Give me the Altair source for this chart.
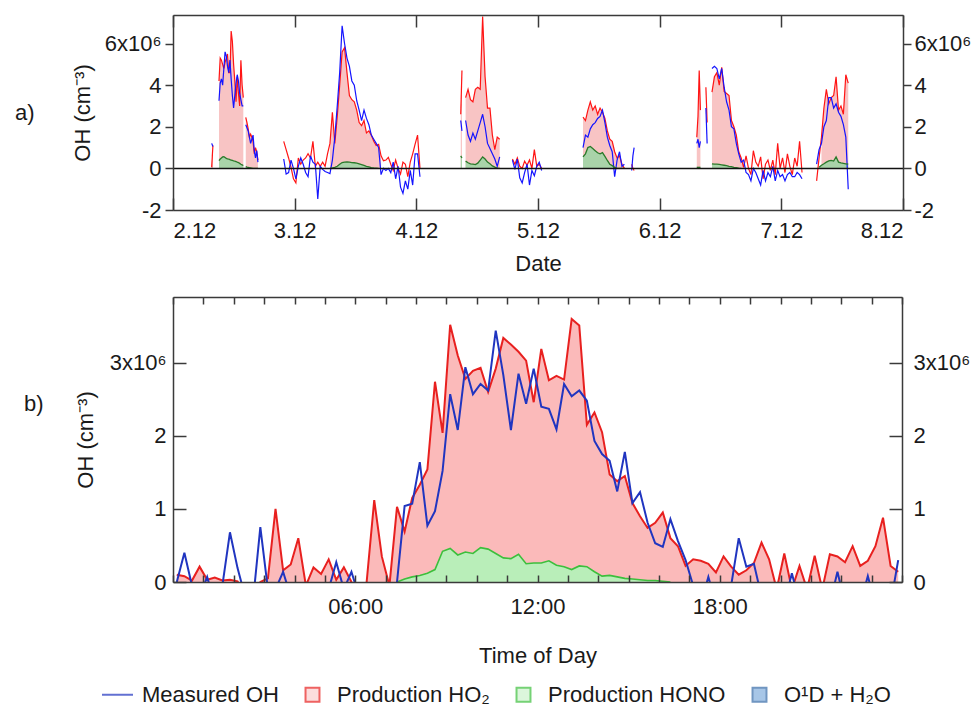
import altair as alt
import pandas as pd

FONT = "Liberation Sans"
INK = "#1a1a1a"
FRAME = "#3a3a3a"

# ---------------- colours ----------------
RED_A, BLUE_A, PINK_A = "#ff1414", "#1414ff", "#f8c4c4"
GFILL_A, GLINE_A = "#a9d3a9", "#2a7a2a"
RED_B, BLUE_B, PINK_B = "#e8201f", "#2035c0", "#fbbaba"
GFILL_B, GLINE_B = "#b9eeb9", "#3cbf3c"
O1D_FILL, O1D_STROKE = "#4f8bd0", "#356aa8"

# ---------------- panel a: time series (day of December, 1e6 cm-3) ----------------
DAY_TICKS = [2, 3, 4, 5, 6, 7, 8]

S1_START, S1_STEP = 2.318, 0.01
S1_HO2 = [0.05, 1.1]
S1_OH = [1.2, 1.05]
S1_HONO_OFF, S1_HONO = 0, []
S1_FILL = (0, 2)

S2_START, S2_STEP = 2.378, 0.01
S2_HO2 = [4.2, 5.3, 5.2, 5.0, 4.8, 5.1, 5.3, 5.5, 4.6, 4.6, 6.6, 6.1, 5.0, 4.2, 3.2, 4.4, 3.6, 3.0, 5.2, 4.0, 3.4]
S2_OH = [3.25, 4.1, 4.3, 4.0, 4.8, 5.6, 5.4, 4.9, 4.6, 5.2, 4.3, 3.5, 2.9, 3.5, 4.1, 4.5, 4.2, 3.6, 3.3, 3.0, 3.0]
S2_HONO_OFF = 0
S2_HONO = [0.37, 0.45, 0.5, 0.55, 0.56, 0.52, 0.48, 0.46, 0.45, 0.42, 0.4, 0.38, 0.36, 0.35, 0.33, 0.3, 0.28, 0.24, 0.2, 0.17, 0.14]
S2_FILL = (0, 21)

S3_START, S3_STEP = 2.598, 0.01
S3_HO2 = [2.45, 2.2, 1.9, 1.5, 1.65, 1.5, 1.3, 0.7, 1.0, 0.8, 0.4]
S3_OH = [2.1, 1.95, 1.8, 1.5, 1.2, 1.4, 1.6, 0.85, 0.5, 0.85, 0.3]
S3_HONO_OFF = 0
S3_HONO = [0.08, 0.06, 0.05, 0.03, 0.02, 0.01, 0.0, 0.0, 0.0, 0.0, 0.0]
S3_FILL = (0, 11)

S4_START, S4_STEP = 2.91, 0.02
S4_HO2 = [1.3, 0.9, 0.5, 0.05, -0.5, -0.7, 0.5, 0.2, 0.4, 0.5,
          0.7, 0.5, 1.3, 0.1, 0.3, 0.1, 0.3, 0.1, 0.7, 1.2,
          2.7, 1.2, 2.5, 4.0, 5.6, 5.8, 4.6, 3.5, 3.3, 3.2,
          2.8, 2.2, 2.05, 2.3, 1.7, 1.8, 1.6, 1.3, 1.1, 1.15,
          0.6, 0.37, 0.4, 0.53, 0.2, -0.1, 0.4, 0.0, -0.27, 0.3,
          0.2, -0.4, 0.3, 0.7, 1.17, 1.6, 0.0]
S4_OH = [0.45, -0.27, -0.2, 0.4, 0.0, -0.5, 0.1, 0.5, 0.2, -0.2,
         -0.4, 0.6, 0.3, 0.2, -1.47, 0.1, -0.05, -0.15, -0.2, -0.25,
         0.4, 1.5, 3.0, 4.6, 6.85, 6.0, 5.3, 4.9, 4.2, 4.0,
         3.25, 2.8, 2.3, 2.8, 2.4, 2.1, 1.6, 1.4, 1.2, 1.0,
         -0.3, 0.0, -0.1, 0.0, -0.2, 0.3, -0.5, 0.1, -0.9, -1.2,
         -0.6, -1.0, -0.1, -0.8, 0.7, 0.7, -0.4]
S4_HONO_OFF = 19
S4_HONO = [0.0, 0.02, 0.05, 0.1, 0.2, 0.28, 0.3, 0.31, 0.3, 0.28, 0.27,
           0.25, 0.22, 0.18, 0.14, 0.1, 0.07, 0.04, 0.02, 0.01, 0.0]
S4_FILL = (19, 41)

S5_START, S5_STEP = 4.365, 0.01
S5_HO2 = [2.6, 4.7]
S5_OH = [2.3, 1.8]
S5_HONO_OFF, S5_HONO = 0, [0.6, 0.5]
S5_FILL = (0, 2)

S6_START, S6_STEP = 4.405, 0.02
S6_HO2 = [3.4, 3.8, 3.3, 3.2, 3.8, 3.9, 3.8, 7.3, 4.4, 2.9, 2.9, 1.6, 0.9, 1.5, 1.4]
S6_OH = [2.3, 1.6, 1.3, 1.7, 1.4, 1.8, 2.2, 2.6, 2.0, 1.2, 0.95, 0.7, 0.45, 0.1, 0.55]
S6_HONO_OFF = 0
S6_HONO = [0.35, 0.27, 0.22, 0.2, 0.18, 0.25, 0.4, 0.55, 0.45, 0.3, 0.22, 0.12, 0.06, 0.01, 0.0]
S6_FILL = (0, 15)

S7_START, S7_STEP = 4.79, 0.02
S7_HO2 = [0.45, 0.2, 0.5, 0.1, 0.0, 0.35, 0.15, 0.4, 0.0, 0.9, 0.1, 0.2, 0.0]
S7_OH = [0.4, -0.05, 0.45, -0.45, -0.7, -0.2, 0.2, -0.8, -0.1, -0.35, 0.1, 0.3, -0.1]
S7_HONO_OFF, S7_HONO = 0, []
S7_FILL = (0, 0)

S8_START, S8_STEP = 5.37, 0.02
S8_HO2 = [2.46, 2.3, 2.8, 3.2, 2.8, 3.0, 2.6, 2.9, 2.7, 2.4, 1.8, 1.4, 1.3, 0.8, 0.5, 0.6, 0.2, 0.0]
S8_OH = [1.0, 1.6, 1.5, 1.9, 2.1, 2.2, 2.4, 2.5, 2.8, 2.2, 1.5, 1.1, 0.8, -0.4, 0.4, 0.8, 0.1, 0.2]
S8_HONO_OFF = 0
S8_HONO = [0.55, 0.7, 1.0, 1.05, 0.95, 0.85, 0.75, 0.7, 0.76, 0.58, 0.38, 0.2, 0.13, 0.05, 0.0, 0.0, 0.0, 0.0]
S8_FILL = (0, 18)

S9_START, S9_STEP = 5.77, 0.01
S9_HO2 = [0.2, 0.0, -0.1]
S9_OH = [-0.1, 0.6, 1.0]
S9_HONO_OFF, S9_HONO = 0, []
S9_FILL = (0, 0)

S10_START, S10_STEP = 6.305, 0.01
S10_HO2 = [1.5, 2.5, 4.7, 2.8]
S10_OH = [1.2, 1.4, 1.0, 1.3]
S10_HONO_OFF, S10_HONO = 0, [0.05, 0.05, 0.05, 0.05]
S10_FILL = (0, 4)

S11_START, S11_STEP = 6.38, 0.01
S11_HO2 = [3.9, 2.2]
S11_OH = [2.9, 1.2]
S11_HONO_OFF, S11_HONO = 0, []
S11_FILL = (0, 0)

S12_START, S12_STEP = 6.43, 0.02
S12_HO2 = [3.66, 4.4, 4.6, 4.0, 4.86, 3.7, 3.6, 3.5, 2.3, 2.0,
           1.6, 0.8, 0.5, 0.05, 0.6, 0.0, -0.3, 0.85, 0.3, 0.1,
           0.55, -0.5, 0.2, 0.4, -0.1, 0.4, -0.3, 1.2, 0.0, 0.5,
           -0.2, 0.7, 0.1, -0.3, 0.5, 0.1, 1.3, -0.2]
S12_OH = [4.8, 4.9, 4.8, 4.3, 4.8, 3.9, 3.2, 2.8, 2.0, 1.9,
          1.2, 0.7, 0.3, 0.4, -0.2, -0.3, -0.6, 0.0, -0.2, -0.5,
          -0.8, -0.1, -0.6, -0.2, -0.4, 0.1, -0.6, -0.1, -0.4, -0.3,
          -0.6, -0.3, -0.2, -0.4, -0.4, -0.2, -0.3, -0.5]
S12_HONO_OFF = 0
S12_HONO = [0.22, 0.2, 0.2, 0.19, 0.17, 0.15, 0.13, 0.1, 0.08, 0.05, 0.03, 0.01, 0.0]
S12_FILL = (0, 14)

S13_START, S13_STEP = 7.29, 0.02
S13_HO2 = [-0.6, 0.5, 1.5, 2.9, 3.8, 3.1, 3.4, 3.5, 4.4, 2.8, 3.0, 2.6, 4.5, 4.1]
S13_OH = [0.2, 0.9, 1.2, 2.0, 2.3, 3.4, 3.4, 2.9, 3.1, 2.7, 2.5, 2.1, 1.5, -1.0]
S13_HONO_OFF = 1
S13_HONO = [0.05, 0.15, 0.22, 0.3, 0.36, 0.38, 0.35, 0.55, 0.3, 0.26, 0.24, 0.22, 0.2]
S13_FILL = (2, 14)

# ---------------- panel b: diurnal profile (hour of day, 1e6 cm-3) ----------------
HOUR_TICKS = list(range(0, 25))
B_HO2 = [0.10, 0.08, 0.02, 0.21, 0.03, 0.06, 0.02, 0.03, 0.01, -0.2,
         -0.2, 0.0, 0.05, 1.0, 0.16, 0.24, 0.6, -0.05, 0.2, 0.11,
         0.31, 0.03, 0.2, 0.0, -0.3, 0.0, 1.12, 0.35, -0.05, 1.03,
         0.69, 1.15, 1.33, 1.54, 2.74, 2.04, 3.52, 3.1, 2.78, 2.89,
         2.93, 2.6, 2.92, 3.34, 3.25, 3.15, 3.03, 2.46, 3.19, 2.76,
         2.82, 2.77, 3.6, 3.51, 2.15, 2.32, 2.05, 1.47, 1.38, 1.45,
         1.08, 0.9, 0.74, 0.81, 0.95, 0.6, 0.49, 0.22, 0.31, 0.29,
         0.25, 0.13, 0.35, 0.21, 0.1, 0.16, 0.26, 0.54, 0.31, -0.1,
         0.39, -0.1, 0.22, -0.1, 0.36, -0.1, 0.38, 0.35, 0.27, 0.49,
         0.22, 0.29, 0.49, 0.88, 0.22, 0.14]
B_OH = [0.0, 0.4, -0.05, -0.2, 0.07, -0.3, -0.05, 0.68, 0.19, -0.2,
        -0.3, 0.75, -0.1, -0.1, 0.14, -0.2, -0.3, -0.3, -0.3, -0.3,
        -0.1, 0.27, -0.1, 0.14, -0.2, -0.3, -0.3, -0.3, -0.3, 0.0,
        1.04, 1.07, 1.64, 0.77, 0.97, 1.52, 2.57, 2.08, 2.94, 2.57,
        2.71, 2.62, 3.44, 2.83, 2.08, 2.85, 2.44, 2.92, 2.4, 2.37,
        2.09, 2.71, 2.54, 2.62, 2.48, 1.93, 1.75, 1.66, 1.24, 1.78,
        1.08, 1.23, 0.81, 0.53, 0.48, 0.86, 0.56, 0.3, -0.05, -0.3,
        0.07, -0.3, -0.3, -0.05, 0.6, 0.21, 0.25, -0.2, -0.3, -0.3,
        -0.3, 0.12, -0.3, -0.3, -0.3, -0.3, -0.3, 0.14, -0.3, -0.3,
        -0.3, 0.08, -0.3, -0.3, -0.3, 0.3]
B_HONO_OFF = 29
B_HONO = [0.0, 0.04, 0.07, 0.09, 0.12, 0.17, 0.42, 0.46, 0.37, 0.41,
          0.39, 0.47, 0.45, 0.39, 0.33, 0.32, 0.38, 0.25, 0.26, 0.26,
          0.29, 0.23, 0.21, 0.17, 0.22, 0.21, 0.14, 0.08, 0.09, 0.07,
          0.05, 0.04, 0.03, 0.02, 0.02, 0.01, 0.0]

LEG_NAMES = ["Measured OH", "Production HO\u2082", "Production HONO", "O\u00b9D + H\u2082O"]

# ---------------- tables ----------------
SEGS = [
    (S1_START, S1_STEP, S1_HO2, S1_OH, S1_HONO_OFF, S1_HONO, S1_FILL),
    (S2_START, S2_STEP, S2_HO2, S2_OH, S2_HONO_OFF, S2_HONO, S2_FILL),
    (S3_START, S3_STEP, S3_HO2, S3_OH, S3_HONO_OFF, S3_HONO, S3_FILL),
    (S4_START, S4_STEP, S4_HO2, S4_OH, S4_HONO_OFF, S4_HONO, S4_FILL),
    (S5_START, S5_STEP, S5_HO2, S5_OH, S5_HONO_OFF, S5_HONO, S5_FILL),
    (S6_START, S6_STEP, S6_HO2, S6_OH, S6_HONO_OFF, S6_HONO, S6_FILL),
    (S7_START, S7_STEP, S7_HO2, S7_OH, S7_HONO_OFF, S7_HONO, S7_FILL),
    (S8_START, S8_STEP, S8_HO2, S8_OH, S8_HONO_OFF, S8_HONO, S8_FILL),
    (S9_START, S9_STEP, S9_HO2, S9_OH, S9_HONO_OFF, S9_HONO, S9_FILL),
    (S10_START, S10_STEP, S10_HO2, S10_OH, S10_HONO_OFF, S10_HONO, S10_FILL),
    (S11_START, S11_STEP, S11_HO2, S11_OH, S11_HONO_OFF, S11_HONO, S11_FILL),
    (S12_START, S12_STEP, S12_HO2, S12_OH, S12_HONO_OFF, S12_HONO, S12_FILL),
    (S13_START, S13_STEP, S13_HO2, S13_OH, S13_HONO_OFF, S13_HONO, S13_FILL),
]

rows_a = []
for k, (start, step, ho2, oh, hoff, hono, fill) in enumerate(SEGS):
    for i in range(len(ho2)):
        j = i - hoff
        rows_a.append(dict(
            d=round(start + i * step, 4), seg=k, ho2=ho2[i],
            oh=oh[i] if i < len(oh) else None,
            hono=hono[j] if 0 <= j < len(hono) else None,
            fill=ho2[i] if fill[0] <= i < fill[1] else None,
        ))
df_a = pd.DataFrame(rows_a)

rows_b = []
for i in range(len(B_HO2)):
    j = i - B_HONO_OFF
    rows_b.append(dict(
        t=0.125 + 0.25 * i, ho2=B_HO2[i],
        oh=B_OH[i] if i < len(B_OH) else None,
        hono=B_HONO[j] if 0 <= j < len(B_HONO) else None,
    ))
df_b = pd.DataFrame(rows_b)
leg_df = pd.DataFrame({"t": [-50.0] * 4, "v": [1.0] * 4, "series": LEG_NAMES})

# ---------------- geometry ----------------
W_A, H_A = 730, 195
W_B, H_B = 729, 285
XA, YA = [2, 8], [-2, 7.37]
XB, YB = [0, 24], [0, 3.9]


def X(field, dom, axis):
    return alt.X(f"{field}:Q", scale=alt.Scale(domain=dom, nice=False, zero=False), axis=axis)


def Y(field, dom, axis):
    return alt.Y(f"{field}:Q", scale=alt.Scale(domain=dom, nice=False), axis=axis)


# ---------------- panel a ----------------
YA_VALS = [-2, 0, 2, 4, 6]
LAB_A = "datum.value == 6 ? '6x10\u2076' : '' + datum.value"
ax_a_bottom = alt.Axis(orient="bottom", values=DAY_TICKS, labelExpr="datum.value + '.12'",
                       ticks=False, tickSize=0, domain=False, grid=False, title="Date",
                       labelPadding=10, titlePadding=12)
ax_a_btick = alt.Axis(orient="top", offset=-H_A, values=DAY_TICKS, labels=False, tickSize=12,
                      domain=True, grid=False, title=None, zindex=1)
ax_a_ttick = alt.Axis(orient="bottom", offset=-H_A, values=DAY_TICKS, labels=False, tickSize=12,
                      domain=True, grid=False, title=None, zindex=1)
ay_a_left = alt.Axis(orient="left", values=YA_VALS, labelExpr=LAB_A, tickSize=8, domain=True,
                     grid=False, title="OH (cm\u207b\u00b3)", zindex=1, labelPadding=4, titlePadding=10)
ay_a_right = alt.Axis(orient="right", values=YA_VALS, labelExpr=LAB_A, tickSize=8, domain=True,
                      grid=False, title=None, zindex=1, labelPadding=3)
ay_a_zero = alt.Axis(orient="left", values=[0], grid=True, gridColor="#111111", gridWidth=1.5,
                     ticks=False, labels=False, domain=False, title=None, zindex=1)

base_a = alt.Chart(df_a)
pink_a = base_a.transform_filter("isValid(datum.fill)").mark_area(
    color=PINK_A, clip=True, orient="vertical").encode(
    x=X("d", XA, ax_a_bottom), y=Y("fill", YA, ay_a_left), y2=alt.datum(0), detail="seg:N")
green_area_a = base_a.transform_filter("isValid(datum.hono)").mark_area(
    color=GFILL_A, clip=True, orient="vertical").encode(
    x=X("d", XA, ax_a_btick), y=Y("hono", YA, ay_a_right), y2=alt.datum(0), detail="seg:N")
red_a = base_a.mark_line(color=RED_A, strokeWidth=1.2, clip=True).encode(
    x=X("d", XA, ax_a_ttick), y=Y("ho2", YA, ay_a_zero), detail="seg:N")
blue_a = base_a.transform_filter("isValid(datum.oh)").mark_line(
    color=BLUE_A, strokeWidth=1.2, clip=True).encode(
    x=X("d", XA, None), y=Y("oh", YA, None), detail="seg:N")
green_a = base_a.transform_filter("isValid(datum.hono)").mark_line(
    color=GLINE_A, strokeWidth=1.3, clip=True).encode(
    x=X("d", XA, None), y=Y("hono", YA, None), detail="seg:N")

panel_a = alt.layer(pink_a, green_area_a, red_a, blue_a, green_a).resolve_axis(
    x="independent", y="independent").properties(
    width=W_A, height=H_A,
    title=alt.TitleParams("a)", orient="left", angle=0, align="right", baseline="middle",
                          anchor="middle", offset=17))

# ---------------- panel b ----------------
YB_VALS = [0, 1, 2, 3]
LAB_B = "datum.value == 3 ? '3x10\u2076' : '' + datum.value"
ax_b_bottom = alt.Axis(orient="bottom", values=[6, 12, 18],
                       labelExpr="(datum.value < 10 ? '0' : '') + datum.value + ':00'",
                       ticks=False, tickSize=0, domain=False, grid=False, title="Time of Day",
                       labelPadding=14, titlePadding=28)
ax_b_btick = alt.Axis(orient="top", offset=-H_B, values=HOUR_TICKS, labels=False, tickSize=7,
                      domain=True, grid=False, title=None, zindex=1)
ax_b_ttick = alt.Axis(orient="bottom", offset=-H_B, values=HOUR_TICKS, labels=False, tickSize=7,
                      domain=True, grid=False, title=None, zindex=1)
ay_b_left = alt.Axis(orient="left", values=YB_VALS, labelExpr=LAB_B, ticks=False, tickSize=0,
                     domain=False, grid=False, title="OH (cm\u207b\u00b3)", labelPadding=7,
                     titlePadding=12)
ay_b_right = alt.Axis(orient="right", values=YB_VALS, labelExpr=LAB_B, ticks=False, tickSize=0,
                      domain=False, grid=False, title=None, labelPadding=11)
ay_b_ltick = alt.Axis(orient="right", offset=-W_B, values=YB_VALS, labels=False, tickSize=13,
                      domain=True, grid=False, title=None, zindex=1)
ay_b_rtick = alt.Axis(orient="left", offset=-W_B, values=YB_VALS, labels=False, tickSize=13,
                      domain=True, grid=False, title=None, zindex=1)

base_b = alt.Chart(df_b)
pink_b = base_b.mark_area(color=PINK_B, clip=True, orient="vertical").encode(
    x=X("t", XB, ax_b_bottom), y=Y("ho2", YB, ay_b_left), y2=alt.datum(0))
green_area_b = base_b.transform_filter("isValid(datum.hono)").mark_area(
    color=GFILL_B, clip=True, orient="vertical").encode(
    x=X("t", XB, ax_b_btick), y=Y("hono", YB, ay_b_right), y2=alt.datum(0))
red_b = base_b.mark_line(color=RED_B, strokeWidth=2, clip=True).encode(
    x=X("t", XB, ax_b_ttick), y=Y("ho2", YB, ay_b_ltick))
green_b = base_b.transform_filter("isValid(datum.hono)").mark_line(
    color=GLINE_B, strokeWidth=1.6, clip=True).encode(
    x=X("t", XB, None), y=Y("hono", YB, ay_b_rtick))
blue_b = base_b.mark_line(color=BLUE_B, strokeWidth=2, clip=True).encode(
    x=X("t", XB, None), y=Y("oh", YB, None))

SQ = "M-0.45,-0.45H0.45V0.45H-0.45Z"
LINE_SYM = "M-1,0H1"
leg = alt.Legend(title=None, orient="none", legendX=-72, legendY=663, direction="horizontal",
                 labelFont=FONT, labelFontSize=22, labelColor=INK, labelLimit=400, symbolSize=961,
                 symbolStrokeWidth=2, labelOffset=8, columnPadding=17)
legend_layer = alt.Chart(leg_df).mark_point(filled=True, size=961, strokeWidth=2, clip=True).encode(
    x=X("t", XB, None), y=Y("v", YB, None),
    shape=alt.Shape("series:N", scale=alt.Scale(domain=LEG_NAMES, range=[LINE_SYM, SQ, SQ, SQ]), legend=leg),
    fill=alt.Fill("series:N", scale=alt.Scale(domain=LEG_NAMES, range=[BLUE_B, PINK_B, GFILL_B, O1D_FILL]), legend=leg),
    stroke=alt.Stroke("series:N", scale=alt.Scale(domain=LEG_NAMES, range=[BLUE_B, RED_B, GLINE_B, O1D_STROKE]), legend=leg),
)

panel_b = alt.layer(pink_b, green_area_b, red_b, green_b, blue_b, legend_layer).resolve_axis(
    x="independent", y="independent").properties(
    width=W_B, height=H_B,
    title=alt.TitleParams("b)", orient="left", angle=0, align="right", baseline="middle",
                          anchor="middle", offset=11, dy=-36))

chart = alt.vconcat(panel_a, panel_b, spacing=22).properties(
    padding={"left": 15, "top": 14, "right": 0, "bottom": 0},
    background="white",
).configure_view(stroke=None).configure_axis(
    labelFont=FONT, titleFont=FONT, labelFontSize=22, titleFontSize=22, titleFontWeight="normal",
    labelColor=INK, titleColor=INK, tickColor=FRAME, domainColor=FRAME, tickWidth=1.5,
    domainWidth=1.5,
).configure_title(font=FONT, fontSize=22, fontWeight="normal", color=INK)

chart.save("out.html", embed_options={"renderer": "svg", "actions": False})
